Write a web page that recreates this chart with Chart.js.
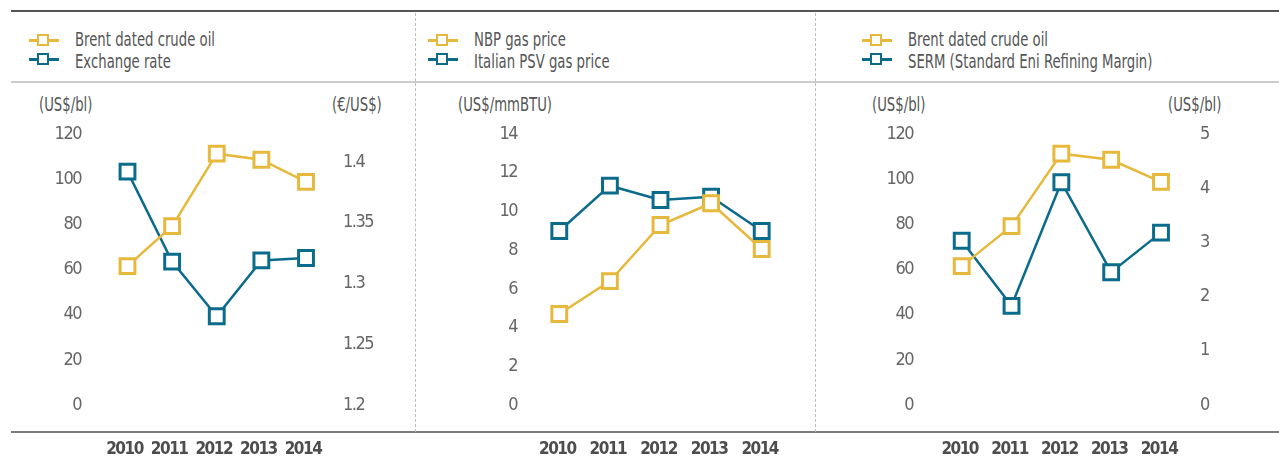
<!DOCTYPE html>
<html>
<head>
<meta charset="utf-8">
<script src="https://cdn.jsdelivr.net/npm/chart.js@4"></script>
<style>
  html, body { margin: 0; padding: 0; background: #fff; }
  body { width: 1279px; height: 459px; position: relative; overflow: hidden;
         font-family: 'DejaVu Sans Condensed', 'Roboto', sans-serif; color: #555; }
  .rule { position: absolute; left: 11px; right: 0; }
  .sep { position: absolute; top: 13px; height: 419px; width: 0; border-left: 1.5px dashed #bbb; }
  .txt { position: absolute; font-size: 19px; line-height: 20px; white-space: nowrap; color: #555;
         transform: scaleX(0.775); transform-origin: 0 50%; }
  .icon { position: absolute; width: 30px; height: 14px; }
  .icon .ln { position: absolute; left: 0; right: 0; top: 6px; height: 2.5px; }
  .icon .sq { position: absolute; left: 8px; top: 0.5px; width: 8px; height: 8px; border: 2.5px solid; background: #fff; }
  canvas { position: absolute; }
</style>
</head>
<body>
<div class="rule" style="top:10px;height:2px;background:#555"></div>
<div class="rule" style="top:81px;height:1.5px;background:#ccc"></div>
<div class="rule" style="top:431px;height:2px;background:#7a7a7a"></div>
<div class="sep" style="left:415px"></div>
<div class="sep" style="left:815px"></div>

<div id="legends"></div>

<div class="txt" style="left:39px;top:94px">(US$/bl)</div>
<div class="txt" style="left:332px;top:94px">(€/US$)</div>
<div class="txt" style="left:458px;top:94px">(US$/mmBTU)</div>
<div class="txt" style="left:872px;top:94px">(US$/bl)</div>
<div class="txt" style="left:1168px;top:94px">(US$/bl)</div>

<canvas id="c1" width="415" height="339" style="left:0;top:120px;width:415px;height:339px"></canvas>
<canvas id="c2" width="399" height="339" style="left:416px;top:120px;width:399px;height:339px"></canvas>
<canvas id="c3" width="463" height="339" style="left:816px;top:120px;width:463px;height:339px"></canvas>

<script>
// data
const years = ['2010', '2011', '2012', '2013', '2014'];
const brentOil = [61.5, 79.2, 111.3, 108.6, 98.8];
const exchangeRate = [1.392, 1.318, 1.273, 1.319, 1.321];
const nbpGas = [4.7, 6.4, 9.3, 10.42, 8.06];
const psvGas = [8.99, 11.33, 10.59, 10.76, 8.99];
const serm = [3.03, 1.83, 4.11, 2.45, 3.18];

const oilTicks = [0, 20, 40, 60, 80, 100, 120];
const rateTicks = [1.2, 1.25, 1.3, 1.35, 1.4];
const gasTicks = [0, 2, 4, 6, 8, 10, 12, 14];
const sermTicks = [0, 1, 2, 3, 4, 5];

const YELLOW = '#e6b83c';
const TEAL = '#0b6b8b';
const FONT = "'DejaVu Sans Condensed', 'Roboto', sans-serif";

// legends (html)
const legendRows = [
  { x: 29, label: 'Brent dated crude oil', color: YELLOW, row: 0 },
  { x: 29, label: 'Exchange rate', color: TEAL, row: 1 },
  { x: 428, label: 'NBP gas price', color: YELLOW, row: 0 },
  { x: 428, label: 'Italian PSV gas price', color: TEAL, row: 1 },
  { x: 862, label: 'Brent dated crude oil', color: YELLOW, row: 0 },
  { x: 862, label: 'SERM (Standard Eni Refining Margin)', color: TEAL, row: 1 },
];
document.getElementById('legends').innerHTML = legendRows.map(l => `
  <div class="icon" style="left:${l.x}px;top:${l.row ? 52 : 33}px">
    <div class="ln" style="background:${l.color}"></div>
    <div class="sq" style="border-color:${l.color}"></div>
  </div>
  <div class="txt" style="left:${l.x + 46}px;top:${l.row ? 50.5 : 29}px">${l.label}</div>
`).join('');

// canvas text a bit tighter, the source uses a condensed face
const tightText = {
  id: 'tightText',
  beforeLayout: c => { c.ctx.letterSpacing = '-1.5px'; },
  beforeDraw: c => { c.ctx.letterSpacing = '-1.5px'; },
};

function lineSet(label, data, color, axis) {
  return {
    label: label,
    data: data,
    yAxisID: axis,
    borderColor: color,
    borderWidth: 2.5,
    backgroundColor: '#fff',
    pointStyle: 'rect',
    pointRadius: 10.5,
    pointBorderWidth: 3,
    pointBackgroundColor: '#fff',
    pointBorderColor: color,
    tension: 0,
  };
}

function yAxis(position, min, max, tickList, width, pad) {
  return {
    position: position,
    min: min,
    max: max,
    grid: { display: false, drawTicks: false },
    border: { display: false },
    afterBuildTicks: s => { s.ticks = tickList.map(v => ({ value: v })); },
    afterFit: s => { s.width = width; s.paddingTop = 0; s.paddingBottom = 0; },
    ticks: {
      padding: pad,
      color: '#666',
      font: { family: FONT, size: 18 },
      callback: v => String(v),
    },
  };
}

function makePanel(id, datasets, leftAxis, rightAxis, padRight, labelShift) {
  const scales = {
    x: {
      offset: false,
      grid: { display: false, drawTicks: false },
      border: { display: false },
      afterFit: s => { s.height = 54; s.paddingLeft = 0; s.paddingRight = 0; },
      ticks: {
        padding: 34,
        maxRotation: 0,
        minRotation: 0,
        autoSkip: false,
        labelOffset: labelShift,
        color: '#4d4d4d',
        font: { family: FONT, size: 17, weight: 'bold' },
      },
    },
    y: leftAxis,
  };
  if (rightAxis) scales.y1 = rightAxis;
  return new Chart(document.getElementById(id), {
    type: 'line',
    data: { labels: years, datasets: datasets },
    plugins: [tightText],
    options: {
      responsive: false,
      animation: false,
      events: [],
      layout: { padding: { top: 14, right: padRight, left: 0, bottom: 0 } },
      plugins: { legend: { display: false }, tooltip: { enabled: false } },
      scales: scales,
    },
  });
}

makePanel('c1',
  [lineSet('Brent dated crude oil', brentOil, YELLOW, 'y'), lineSet('Exchange rate', exchangeRate, TEAL, 'y1')],
  yAxis('left', 0, 120, oilTicks, 127.5, 46.5),
  yAxis('right', 1.2, 1.423, rateTicks, 109, 37),
  0, -3);

makePanel('c2',
  [lineSet('NBP gas price', nbpGas, YELLOW, 'y'), lineSet('Italian PSV gas price', psvGas, TEAL, 'y')],
  yAxis('left', 0, 14, gasTicks, 143.3, 42.3),
  null, 53.3, -2);

makePanel('c3',
  [lineSet('Brent dated crude oil', brentOil, YELLOW, 'y'), lineSet('SERM (Standard Eni Refining Margin)', serm, TEAL, 'y1')],
  yAxis('left', 0, 120, oilTicks, 145.7, 48.7),
  yAxis('right', 0, 5, sermTicks, 118, 39),
  0, -2);
</script>
</body>
</html>
